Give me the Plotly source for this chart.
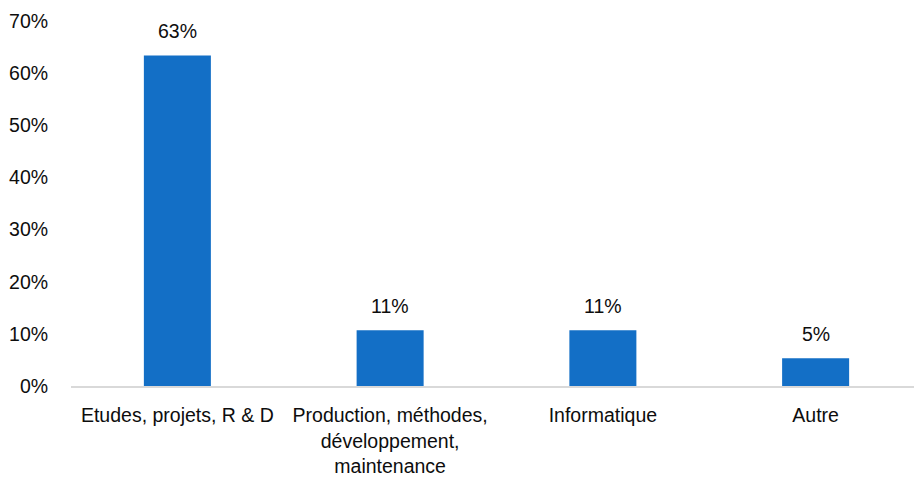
import plotly.graph_objects as go

# Données
categories = [
    "Etudes, projets, R & D",
    "Production, méthodes,<br>développement,<br>maintenance",
    "Informatique",
    "Autre",
]
valeurs = [0.634, 0.107, 0.107, 0.053]
etiquettes = ["63%", "11%", "11%", "5%"]

police = "Liberation Sans, Arial"

fig = go.Figure()

fig.add_trace(go.Bar(
    x=categories,
    y=valeurs,
    marker=dict(color="#136FC6", line=dict(width=0)),
    width=0.315,
    hoverinfo="skip",
))

# Étiquettes de données au-dessus des barres
for cat, val, lab in zip(categories, valeurs, etiquettes):
    fig.add_annotation(
        x=cat, y=val, text=lab, showarrow=False,
        yanchor="bottom", yshift=11,
        font=dict(family=police, size=19.5, color="#0d0d0d"),
    )

# la page a une marge de 8 px : on compense
fig.update_layout(
    width=914,
    height=473,
    margin=dict(l=63, r=0, t=13, b=95, autoexpand=False),
    plot_bgcolor="white",
    paper_bgcolor="white",
    showlegend=False,
    font=dict(family=police, size=19.5, color="#0d0d0d"),
    xaxis=dict(
        showline=True, linecolor="#d9d9d9", linewidth=1.5,
        showgrid=False, ticks="outside", ticklen=11, tickcolor="white",
        automargin=False,
    ),
    yaxis=dict(
        range=[0, 0.70], dtick=0.10, tickformat=".0%",
        showgrid=False, showline=False, zeroline=False,
        ticks="outside", ticklen=18, tickcolor="white",
        automargin=False,
    ),
)

fig.write_html("out.html")
